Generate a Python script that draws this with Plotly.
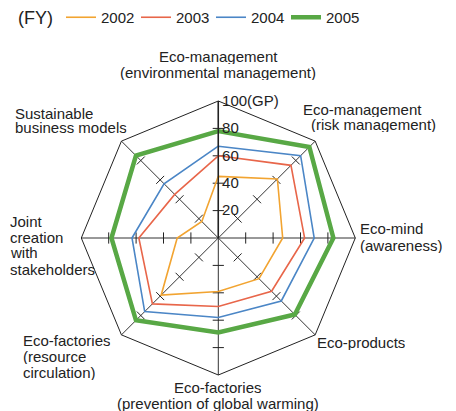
import plotly.graph_objects as go

# DATA
categories = [
    "Eco-management<br>(environmental management)",
    "Eco-management<br>(risk management)",
    "Eco-mind<br>(awareness)",
    "Eco-products",
    "Eco-factories<br>(prevention of global warming)",
    "Eco-factories<br>(resource<br>circulation)",
    "Joint<br>creation<br>with<br>stakeholders",
    "Sustainable<br>business models",
]
years = ["2002", "2003", "2004", "2005"]
fy2002 = [45, 61, 47, 42, 39, 59, 30, 17]
fy2003 = [60, 75, 63, 55, 50, 68, 58, 45]
fy2004 = [67, 85, 70, 65, 58, 76, 63, 56]
fy2005 = [78, 94, 84, 79, 69, 85, 78, 85]
tick_vals = [20, 40, 60, 80, 100]
tick_text = ["20", "40", "60", "80", "100(GP)"]

# page is drawn with an 8px body margin, so the figure is 8px smaller
OFF = 8
W, H = 456 - OFF, 411 - OFF
FONT = "Liberation Sans, Arial, sans-serif"

series = [fy2002, fy2003, fy2004, fy2005]
colors = ["#F2A431", "#E8664A", "#4B86C6", "#58A845"]
widths = [1.6, 1.6, 1.6, 4.5]


def px(x):
    return (x - OFF) / W


def py(y):
    return 1 - (y - OFF) / H


fig = go.Figure()

# tick marks across every spoke (20..80)
tick_r, tick_t, tick_a = [], [], []
for i, cat in enumerate(categories):
    for v in tick_vals[:-1]:
        tick_r.append(v)
        tick_t.append(cat)
        tick_a.append(45 * i)
fig.add_trace(go.Scatterpolar(
    r=tick_r, theta=tick_t, mode="markers", showlegend=False, hoverinfo="skip",
    marker=dict(symbol="line-ew", size=8, angle=tick_a,
                line=dict(color="#222222", width=1)),
))

for name, vals, c, w in zip(years, series, colors, widths):
    fig.add_trace(go.Scatterpolar(
        r=vals + vals[:1],
        theta=categories + categories[:1],
        mode="lines",
        name=name,
        line=dict(color=c, width=w),
    ))

# category labels, placed line by line (x px, y px, anchor) in page pixels
label_pos = [
    [(218, 56, "center"), (218, 73, "center")],
    [(301, 109, "left"), (309, 125, "left")],
    [(358, 228, "left"), (358, 245, "left")],
    [(315, 342, "left")],
    [(218, 387, "center"), (218, 403, "center")],
    [(21, 340, "left"), (21, 356, "left"), (21, 372, "left")],
    [(8, 221, "left"), (8, 237, "left"), (8, 253, "left"), (8, 269, "left")],
    [(13, 113, "left"), (13, 128, "left")],
]
annotations = []
for cat, pos in zip(categories, label_pos):
    for line, (x, y, anc) in zip(cat.split("<br>"), pos):
        annotations.append(dict(
            text=line, x=px(x), y=py(y), xref="paper", yref="paper",
            xanchor=anc, yanchor="middle", showarrow=False, height=15,
            font=dict(family=FONT, size=15, color="#222222"),
        ))

cx, cy, rad = 218.3, 238, 137
fig.update_layout(
    width=W, height=H,
    margin=dict(l=0, r=0, t=0, b=0, autoexpand=False),
    paper_bgcolor="white",
    font=dict(family=FONT, size=15, color="#222222"),
    annotations=annotations,
    legend=dict(
        orientation="h", x=px(16), y=py(18), xanchor="left", yanchor="middle",
        title=dict(text="(FY)", side="left"),
        font=dict(size=15), itemwidth=30, entrywidth=30,
    ),
    polar=dict(
        domain=dict(x=[px(cx - rad), px(cx + rad)],
                    y=[py(cy + rad), py(cy - rad)]),
        gridshape="linear",
        bgcolor="white",
        angularaxis=dict(
            rotation=90, direction="clockwise",
            showline=True, linecolor="#222222", linewidth=1,
            showgrid=True, gridcolor="#333333", gridwidth=1,
            showticklabels=False, ticks="",
        ),
        radialaxis=dict(
            range=[0, 100], angle=90, tickangle=90, side="clockwise",
            tickvals=tick_vals, ticktext=tick_text,
            showgrid=False, showline=True, linecolor="#222222", linewidth=1.5,
            ticks="", tickfont=dict(size=15, color="#222222"),
        ),
    ),
)

fig.write_html("out.html")
